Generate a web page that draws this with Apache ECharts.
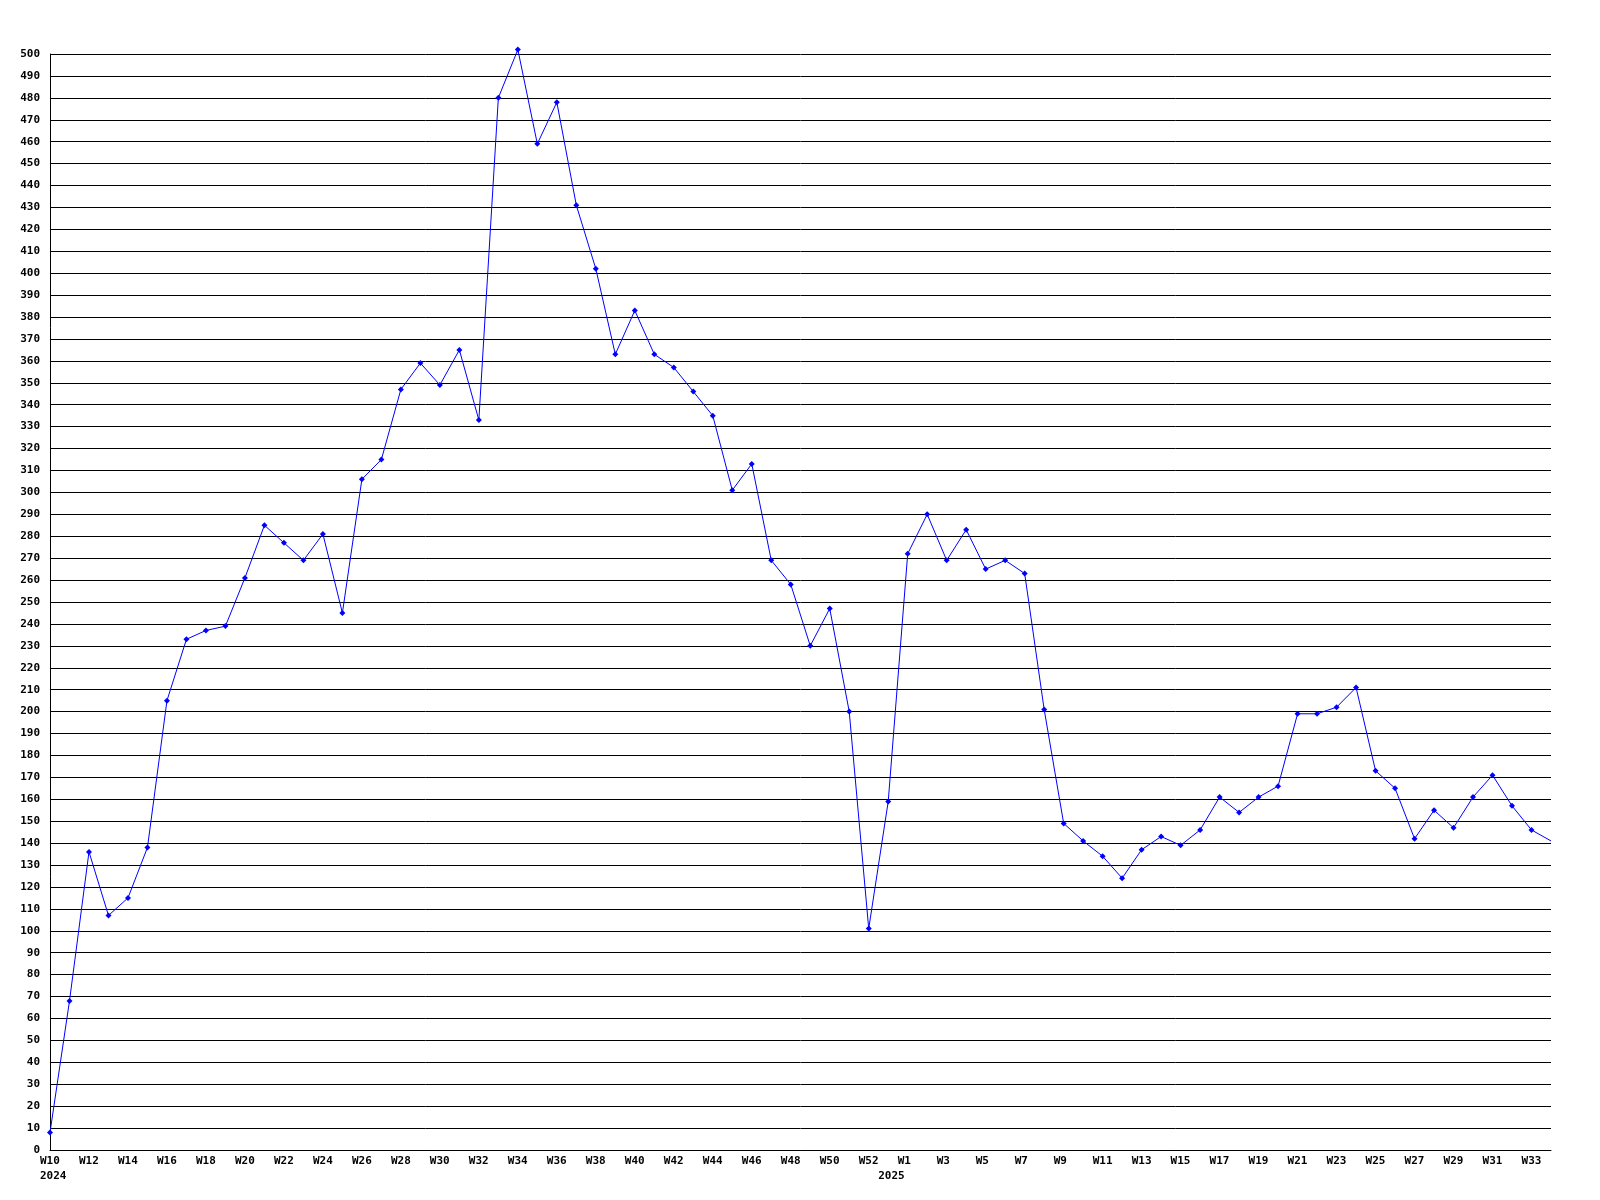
<!DOCTYPE html>
<html>
<head>
<meta charset="utf-8">
<style>
html,body{margin:0;padding:0;background:#fff;}
#chart{width:1600px;height:1200px;}
</style>
<script src="https://cdn.jsdelivr.net/npm/echarts@6/dist/echarts.min.js"></script>
</head>
<body>
<div id="chart"></div>
<script>
// Week categories (2024 W10..W53, 2025 W1..W34)
const weeks = [
  'W10','W11','W12','W13','W14','W15','W16','W17','W18','W19',
  'W20','W21','W22','W23','W24','W25','W26','W27','W28','W29',
  'W30','W31','W32','W33','W34','W35','W36','W37','W38','W39',
  'W40','W41','W42','W43','W44','W45','W46','W47','W48','W49',
  'W50','W51','W52','W53',
  'W1','W2','W3','W4','W5','W6','W7','W8','W9','W10',
  'W11','W12','W13','W14','W15','W16','W17','W18','W19','W20',
  'W21','W22','W23','W24','W25','W26','W27','W28','W29','W30',
  'W31','W32','W33','W34'
];
const values = [
  8, 68, 136, 107, 115, 138, 205, 233, 237, 239,
  261, 285, 277, 269, 281, 245, 306, 315, 347, 359,
  349, 365, 333, 480, 502, 459, 478, 431, 402, 363,
  383, 363, 357, 346, 335, 301, 313, 269, 258, 230,
  247, 200, 101, 159,
  272, 290, 269, 283, 265, 269, 263, 201, 149, 141,
  134, 124, 137, 143, 139, 146, 161, 154, 161, 166,
  199, 199, 202, 211, 173, 165, 142, 155, 147, 161,
  171, 157, 146, 141
];
// Year labels and the category index where they appear
const yearIndex = [0, 43];
const yearText = ['2024', '2025'];

const yMin = 0, yMax = 500, yStep = 10;

const font = '"DejaVu Sans Mono", "Liberation Mono", monospace';

const seriesData = values.map((v, i) => i === values.length - 1 ? {value: v, symbol: 'none'} : v);

const chart = echarts.init(document.getElementById('chart'), null, {renderer: 'canvas'});
chart.setOption({
  backgroundColor: '#ffffff',
  animation: false,
  grid: {left: 50, right: 49, top: 54, bottom: 50, containLabel: false},
  xAxis: {
    type: 'category',
    data: weeks,
    boundaryGap: false,
    axisLine: {show: true, lineStyle: {color: '#000', width: 1}},
    axisTick: {show: false},
    splitLine: {show: false},
    axisLabel: {
      interval: function (idx) { return idx % 2 === 0 || yearIndex.indexOf(idx) >= 0; },
      formatter: function (val, idx) {
        const yi = yearIndex.indexOf(idx);
        if (idx % 2 === 0) {
          return yi >= 0 ? val + '\n' + yearText[yi] : val;
        }
        return yi >= 0 ? '\n' + yearText[yi] : '';
      },
      align: 'left',
      padding: [0, 0, 0, -10],
      margin: 4,
      lineHeight: 15,
      color: '#000',
      fontFamily: font,
      fontWeight: 'bold',
      fontSize: 11,
      hideOverlap: false
    }
  },
  yAxis: {
    type: 'value',
    min: yMin,
    max: yMax,
    interval: yStep,
    axisLine: {show: true, lineStyle: {color: '#000', width: 1}},
    axisTick: {show: false},
    splitLine: {show: true, lineStyle: {color: '#000', width: 1}},
    axisLabel: {
      margin: 10,
      color: '#000',
      fontFamily: font,
      fontWeight: 'bold',
      fontSize: 11
    }
  },
  series: [{
    type: 'line',
    data: seriesData,
    clip: false,
    symbol: 'diamond',
    symbolSize: 6,
    showSymbol: true,
    showAllSymbol: true,
    lineStyle: {color: '#0000ff', width: 1},
    itemStyle: {color: '#0000ff'},
    emphasis: {disabled: true}
  }]
});
</script>
</body>
</html>
